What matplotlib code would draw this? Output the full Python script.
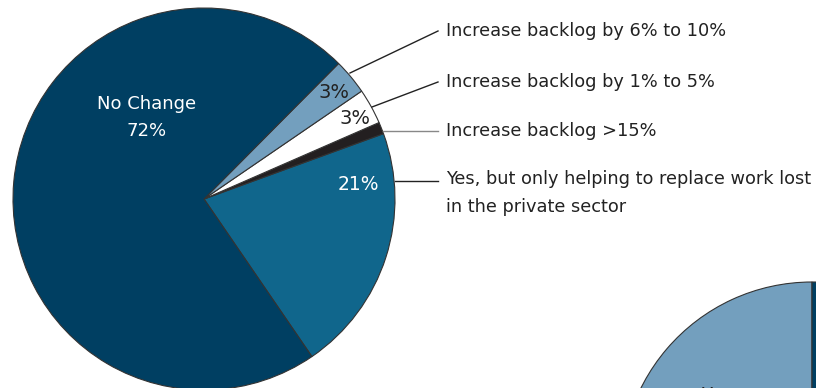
import matplotlib.pyplot as plt

# pie 1 slices, counter-clockwise from the lower boundary
shares = [21, 1, 3, 3, 72]
names = ['Yes, but only helping to replace work lost\nin the private sector',
         'Increase backlog >15%',
         'Increase backlog by 1% to 5%',
         'Increase backlog by 6% to 10%',
         'No Change']
colors = ['#10668C', '#231F20', '#FFFFFF', '#739FBE', '#003F62']

# second pie (only a corner is visible)
shares2 = [55, 45]
colors2 = ['#739FBE', '#003F62']

W, H = 816, 388

fig = plt.figure(figsize=(8.16, 3.88), dpi=100)
ax = fig.add_axes([0, 0, 1, 1])

R = 191
wp = dict(edgecolor='#333333', linewidth=0.8)
ax.pie(shares, colors=colors, startangle=-55.6, radius=R, center=(204, H - 199),
       wedgeprops=wp, frame=True)
ax.pie(shares2, colors=colors2, startangle=90, radius=R, center=(812, H - 473),
       wedgeprops=wp, frame=True)
ax.set_xlim(0, W)
ax.set_ylim(0, H)
ax.set_aspect('equal')
ax.axis('off')

# labels inside the slices
ax.text(147, H - 104, 'No Change', color='white', fontsize=13, ha='center', va='center')
ax.text(147, H - 131, '72%', color='white', fontsize=13, ha='center', va='center')
ax.text(358, H - 185, '21%', color='white', fontsize=13.5, ha='center', va='center')
ax.text(334, H - 93, '3%', color='#222222', fontsize=14, ha='center', va='center')
ax.text(355, H - 118, '3%', color='#222222', fontsize=14, ha='center', va='center')
ax.text(716, H - 386, 'Yes', color='#222222', fontsize=13, ha='center', va='top')

# leader lines and right-hand labels
ends = [(395, 181), (383, 131), (372, 107), (350, 73)]
label_y = [181, 131, 82, 31]
line_colors = ['#222222', '#888888', '#222222', '#222222']
for i in range(4):
    x0, y0 = ends[i]
    ax.plot([x0, 438], [H - y0, H - label_y[i]], color=line_colors[i], linewidth=1)
    if '\n' in names[i]:
        ax.text(446, H - label_y[i] + 11, names[i], color='#222222', fontsize=12.8,
                ha='left', va='top', linespacing=1.7)
    else:
        ax.text(446, H - label_y[i], names[i], color='#222222', fontsize=12.8,
                ha='left', va='center')

fig.savefig('out.png', dpi=100)
